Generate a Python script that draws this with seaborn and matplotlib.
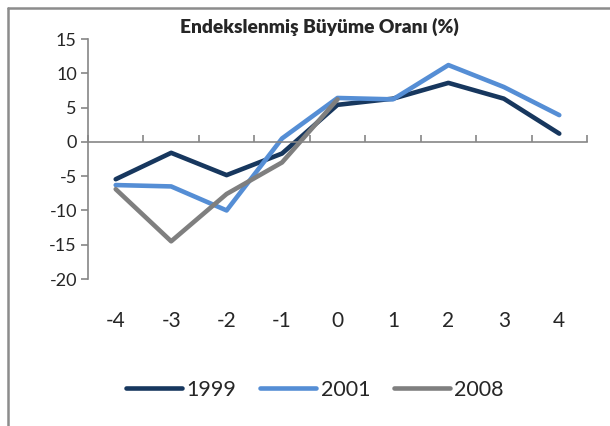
import matplotlib
matplotlib.use("Agg")
import matplotlib.pyplot as plt
from matplotlib.lines import Line2D
import seaborn as sns
import pandas as pd
import numpy as np

quarters = [-4, -3, -2, -1, 0, 1, 2, 3, 4]
s1999 = [-5.45, -1.6, -4.85, -1.7, 5.4, 6.3, 8.6, 6.3, 1.2]
s2001 = [-6.3, -6.5, -10.0, 0.5, 6.4, 6.2, 11.2, 8.0, 3.9]
s2008 = [-6.9, -14.5, -7.6, -3.0, 6.2]
series_names = ["1999", "2001", "2008"]
colors = ["#17375E", "#558ED5", "#7F7F7F"]
title = "Endekslenmiş Büyüme Oranı (%)"
yticks = [-20, -15, -10, -5, 0, 5, 10, 15]

rows = []
for name, vals in zip(series_names, [s1999, s2001, s2008]):
    for q, v in zip(quarters, vals):
        rows.append({"q": q, "v": v, "yil": name})
df = pd.DataFrame(rows)

sns.set_style("white")
plt.rcParams["font.family"] = ["Lato", "DejaVu Sans"]

fig = plt.figure(figsize=(6.10, 4.26), dpi=100)
ax = fig.add_axes([88/610, 1-279/426, (587-88)/610, (279-39)/426])

sns.lineplot(data=df, x="q", y="v", hue="yil", palette=colors, linewidth=3.3,
             ax=ax, legend=False, sort=False)

axis_col = "#868686"
ax.set_xlim(-4.5, 4.5)
ax.set_ylim(-20, 15)
ax.set_xlabel("")
ax.set_ylabel("")
for s in ["top", "right"]:
    ax.spines[s].set_visible(False)
ax.spines["left"].set_color(axis_col)
ax.spines["left"].set_linewidth(1.2)
ax.spines["bottom"].set_color(axis_col)
ax.spines["bottom"].set_linewidth(1.2)
ax.spines["bottom"].set_position(("data", 0))

ax.set_yticks(yticks)
ax.set_yticklabels([str(t) for t in yticks])
ax.tick_params(axis="y", direction="out", length=5, width=1.2, color=axis_col,
               labelsize=13, pad=3, left=True)

ax.set_xticks(np.arange(-4.5, 4.6, 1.0))
ax.set_xticklabels([])
ax.tick_params(axis="x", direction="in", length=5, width=1.2, color=axis_col, bottom=True)

sec = ax.secondary_xaxis(0)
sec.set_xticks(quarters)
sec.set_xticklabels([str(q) for q in quarters])
sec.spines["bottom"].set_visible(False)
sec.tick_params(axis="x", length=0, labelsize=15, pad=23)

fig.text(319/610, 1-27/426, title, ha="center", va="center",
         fontsize=13.8, fontweight="heavy")

handles = [Line2D([0], [0], color=c, lw=3.3, solid_capstyle="round") for c in colors]
fig.legend(handles, series_names, loc="center", bbox_to_anchor=(315/610, 1-390/426),
           ncol=3, frameon=False, fontsize=15.5, handlelength=2.6,
           handletextpad=0.2, columnspacing=1.1)

border = "#8C8C8C"
fig.add_artist(Line2D([8/610, 1], [1-8/426, 1-8/426], color=border, lw=1.8,
                      transform=fig.transFigure))
fig.add_artist(Line2D([8/610, 8/610], [0, 1-8/426], color=border, lw=1.8,
                      transform=fig.transFigure))

fig.savefig("out.png", dpi=100)
